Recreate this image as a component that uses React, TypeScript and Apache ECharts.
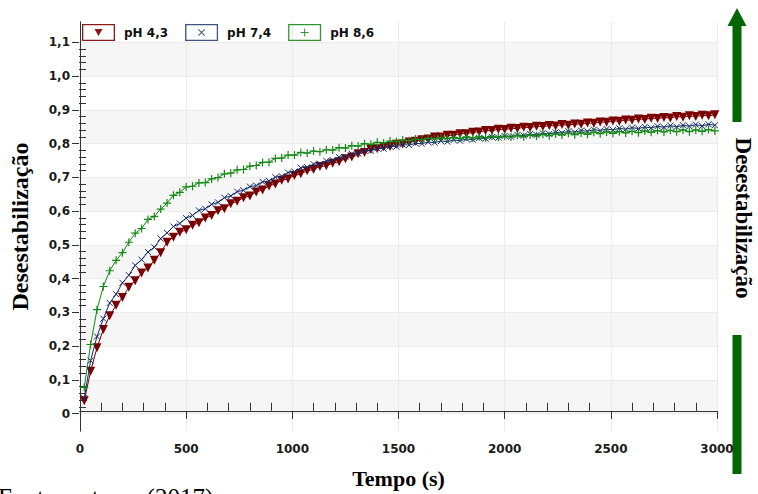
import React, { useEffect, useRef } from 'react';
import * as echarts from 'echarts';

// Sampling times (s)
const times = [20,50,80,110,140,170,200,230,260,290,320,350,380,410,440,470,500,530,560,590,620,650,680,710,740,770,800,830,860,890,920,950,980,1010,1040,1070,1100,1130,1160,1190,1220,1250,1280,1310,1340,1370,1400,1430,1460,1490,1520,1550,1580,1610,1640,1670,1700,1730,1760,1790,1820,1850,1880,1910,1940,1970,2000,2030,2060,2090,2120,2150,2180,2210,2240,2270,2300,2330,2360,2390,2420,2450,2480,2510,2540,2570,2600,2630,2660,2690,2720,2750,2780,2810,2840,2870,2900,2930,2960,2990];

const ph43 = [0.030,0.118,0.188,0.243,0.284,0.315,0.338,0.369,0.388,0.411,0.426,0.449,0.472,0.503,0.518,0.533,0.540,0.554,0.561,0.575,0.583,0.597,0.603,0.618,0.625,0.636,0.641,0.653,0.659,0.671,0.677,0.688,0.692,0.702,0.707,0.716,0.720,0.729,0.731,0.739,0.743,0.752,0.757,0.767,0.771,0.780,0.782,0.788,0.789,0.795,0.796,0.802,0.804,0.809,0.811,0.817,0.817,0.822,0.822,0.827,0.827,0.831,0.832,0.836,0.836,0.840,0.839,0.843,0.842,0.846,0.845,0.849,0.848,0.851,0.850,0.854,0.852,0.856,0.855,0.859,0.858,0.862,0.861,0.865,0.864,0.868,0.867,0.871,0.869,0.873,0.872,0.875,0.874,0.878,0.876,0.880,0.878,0.882,0.880,0.883];

const ph74 = [0.038,0.150,0.222,0.275,0.322,0.348,0.382,0.405,0.434,0.451,0.474,0.488,0.514,0.531,0.550,0.559,0.575,0.583,0.598,0.603,0.616,0.622,0.636,0.641,0.654,0.658,0.669,0.672,0.683,0.686,0.697,0.700,0.711,0.714,0.725,0.727,0.736,0.737,0.746,0.748,0.757,0.758,0.767,0.768,0.776,0.776,0.783,0.782,0.789,0.788,0.794,0.793,0.798,0.797,0.802,0.800,0.805,0.803,0.808,0.806,0.811,0.809,0.814,0.812,0.817,0.815,0.820,0.818,0.823,0.821,0.826,0.823,0.828,0.826,0.831,0.829,0.834,0.831,0.836,0.834,0.839,0.836,0.841,0.838,0.843,0.840,0.845,0.842,0.847,0.844,0.849,0.846,0.851,0.847,0.852,0.849,0.854,0.850,0.855,0.852];

const ph86 = [0.070,0.198,0.302,0.371,0.418,0.449,0.472,0.503,0.530,0.544,0.571,0.580,0.602,0.620,0.643,0.652,0.668,0.670,0.680,0.681,0.692,0.696,0.707,0.709,0.719,0.720,0.730,0.732,0.741,0.742,0.753,0.754,0.763,0.763,0.771,0.769,0.775,0.773,0.779,0.778,0.785,0.784,0.791,0.790,0.797,0.795,0.801,0.799,0.805,0.803,0.808,0.806,0.811,0.809,0.813,0.811,0.815,0.812,0.816,0.813,0.817,0.814,0.818,0.815,0.819,0.816,0.820,0.817,0.822,0.818,0.823,0.820,0.825,0.821,0.826,0.823,0.828,0.824,0.829,0.825,0.831,0.827,0.832,0.828,0.833,0.829,0.834,0.830,0.835,0.831,0.836,0.832,0.837,0.833,0.838,0.833,0.838,0.834,0.839,0.835];

const seriesNames = ['pH 4,3', 'pH 7,4', 'pH 8,6'];

// Axis ranges
const X_MIN = 0, X_MAX = 3000, X_STEP = 500, X_MINOR = 5;
const Y_MIN = -0.06, Y_MAX = 1.16;
const Y_LAB_MIN = 0, Y_LAB_MAX = 1.1, Y_STEP = 0.1, Y_MINOR = 5;

// Layout
const W = 758, H = 494;
const G_LEFT = 79, G_RIGHT = 41, G_TOP = 22, G_BOTTOM = 60;

const LABEL_FONT = 'DejaVu Sans';
const SERIF = 'Liberation Serif';

const C_RED = '#7a0000';
const C_BLUE = '#14296a';
const C_GREEN = '#138a13';
const C_ARROW = '#046704';

const ICON_FRAME = 'M0,0H33V17H0Z M1.3,1.3V15.7H31.7V1.3Z';
const ICON_RED = 'path://' + ICON_FRAME + ' M12.5,5L20.5,5L16.5,12Z';
const ICON_BLUE = 'path://' + ICON_FRAME + ' M13,5.7L13.7,5L20,11.3L19.3,12Z M19.3,5L20,5.7L13.7,12L13,11.3Z';
const ICON_GREEN = 'path://' + ICON_FRAME + ' M16,4.5H17V12.5H16Z M12.5,8H20.5V9H12.5Z';

export default function App() {
  const ref = useRef<HTMLDivElement>(null);

  useEffect(() => {
    if (!ref.current) return;
    const chart = echarts.init(ref.current, null, { renderer: 'svg' });

    const plotH = H - G_TOP - G_BOTTOM;
    const k = plotH / (Y_MAX - Y_MIN);
    const g1Top = G_TOP + (Y_MAX - Y_LAB_MAX) * k;
    const g1Bottom = G_BOTTOM + (Y_LAB_MIN - Y_MIN) * k;

    const mk = (vals: number[]) => times.map((t, i) => [t, vals[i]]);

    const fmtY = (v: number) => (Math.abs(v) < 1e-9 ? '0' : v.toFixed(1).replace('.', ','));
    const fmtX = (v: number) => String(Math.round(v));

    const option: any = {
      animation: false,
      backgroundColor: '#ffffff',
      grid: [
        { left: G_LEFT, right: G_RIGHT, top: G_TOP, bottom: G_BOTTOM, show: false },
        { left: G_LEFT, right: G_RIGHT, top: g1Top, bottom: g1Bottom, show: false },
      ],
      legend: {
        left: 82,
        top: 24,
        padding: 0,
        itemWidth: 33,
        itemHeight: 17,
        itemGap: 17,
        textStyle: { fontFamily: LABEL_FONT, fontWeight: 'bold', fontSize: 12, color: '#111', padding: [0, 0, 0, 4] },
        data: [
          { name: seriesNames[0], icon: ICON_RED, itemStyle: { color: '#8a1a1a', borderWidth: 0 } },
          { name: seriesNames[1], icon: ICON_BLUE, itemStyle: { color: '#3d5585', borderWidth: 0 } },
          { name: seriesNames[2], icon: ICON_GREEN, itemStyle: { color: '#2f962f', borderWidth: 0 } },
        ],
      },
      xAxis: [
        {
          type: 'value', gridIndex: 0, min: X_MIN, max: X_MAX, interval: X_STEP,
          name: 'Tempo (s)', nameLocation: 'middle', nameGap: 36,
          nameTextStyle: { fontFamily: SERIF, fontWeight: 'bold', fontSize: 22, color: '#000' },
          axisLine: { show: true, lineStyle: { color: '#333', width: 1 } },
          axisTick: { show: true, inside: false, length: 8, lineStyle: { color: '#333' } },
          minorTick: { show: true, splitNumber: X_MINOR, length: -8, lineStyle: { color: '#333' } },
          axisLabel: { fontFamily: LABEL_FONT, fontWeight: 'bold', fontSize: 12, color: '#1a1a1a', margin: 12, formatter: fmtX },
          splitLine: { show: true, lineStyle: { color: '#ebebeb', width: 1 } },
        },
        { type: 'value', gridIndex: 1, min: X_MIN, max: X_MAX, show: false },
        {
          type: 'value', gridIndex: 0, min: X_MIN, max: X_MAX, position: 'top',
          axisLine: { show: true, lineStyle: { color: '#333', width: 1 } },
          axisTick: { show: false }, axisLabel: { show: false }, splitLine: { show: false },
        },
      ],
      yAxis: [
        {
          type: 'value', gridIndex: 0, min: Y_MIN, max: Y_MAX, position: 'left',
          name: 'Desestabilização', nameLocation: 'middle', nameGap: 48, nameRotate: 90,
          nameTextStyle: { fontFamily: SERIF, fontWeight: 'bold', fontSize: 24, color: '#000' },
          axisLine: { show: true, lineStyle: { color: '#333', width: 1 } },
          axisTick: { show: false }, axisLabel: { show: false }, splitLine: { show: false },
        },
        {
          type: 'value', gridIndex: 1, min: Y_LAB_MIN, max: Y_LAB_MAX, interval: Y_STEP, position: 'left',
          axisLine: { show: false },
          axisTick: { show: true, inside: false, length: 7, lineStyle: { color: '#333' } },
          minorTick: { show: true, splitNumber: Y_MINOR, length: -7, lineStyle: { color: '#333' } },
          axisLabel: { fontFamily: LABEL_FONT, fontWeight: 'bold', fontSize: 12, color: '#1a1a1a', margin: 9, formatter: fmtY },
          splitLine: { show: true, lineStyle: { color: '#ebebeb', width: 1 } },
          splitArea: { show: true, areaStyle: { color: ['#f6f6f6', '#ffffff'] } },
        },
        {
          type: 'value', gridIndex: 0, min: Y_MIN, max: Y_MAX, position: 'right',
          axisLine: { show: true, lineStyle: { color: '#333', width: 1 } },
          axisTick: { show: false }, axisLabel: { show: false }, splitLine: { show: false },
        },
      ],
      series: [
        {
          name: seriesNames[0], type: 'line', xAxisIndex: 0, yAxisIndex: 0,
          data: mk(ph43), showSymbol: true, symbol: 'triangle', symbolRotate: 180, symbolSize: 9,
          itemStyle: { color: C_RED }, lineStyle: { color: C_RED, width: 1 }, z: 3,
        },
        {
          name: seriesNames[1], type: 'line', xAxisIndex: 0, yAxisIndex: 0,
          data: mk(ph74), showSymbol: true, symbol: 'path://M0,0L10,10M10,0L0,10', symbolSize: 6,
          itemStyle: { color: C_BLUE, borderColor: C_BLUE, borderWidth: 1 }, lineStyle: { color: C_BLUE, width: 1 }, z: 4,
        },
        {
          name: seriesNames[2], type: 'line', xAxisIndex: 0, yAxisIndex: 0,
          data: mk(ph86), showSymbol: true, symbol: 'path://M5,0L5,10M0,5L10,5', symbolSize: 8,
          itemStyle: { color: C_GREEN, borderColor: C_GREEN, borderWidth: 1.2 }, lineStyle: { color: C_GREEN, width: 1 }, z: 5,
        },
      ],
      graphic: [
        { type: 'polygon', shape: { points: [[737, 8], [727.5, 26], [746.5, 26]] }, style: { fill: C_ARROW } },
        { type: 'rect', shape: { x: 732.5, y: 25, width: 9, height: 97 }, style: { fill: C_ARROW } },
        { type: 'rect', shape: { x: 732.5, y: 335, width: 9, height: 139 }, style: { fill: C_ARROW } },
        {
          type: 'text', x: 743, y: 218, rotation: -Math.PI / 2,
          style: { text: 'Desestabilização', font: `bold 23px "${SERIF}"`, fill: '#000', align: 'center', verticalAlign: 'middle' },
        },
        {
          type: 'text', x: -2, y: 497,
          style: { text: 'Fonte: autores (2017)', font: `25px "${SERIF}"`, fill: '#000', align: 'left', verticalAlign: 'middle' },
        },
      ],
    };

    chart.setOption(option);
    return () => chart.dispose();
  }, []);

  return (
    <div
      ref={ref}
      style={{ position: 'absolute', left: 0, top: 0, width: W, height: H, background: '#fff' }}
    />
  );
}
